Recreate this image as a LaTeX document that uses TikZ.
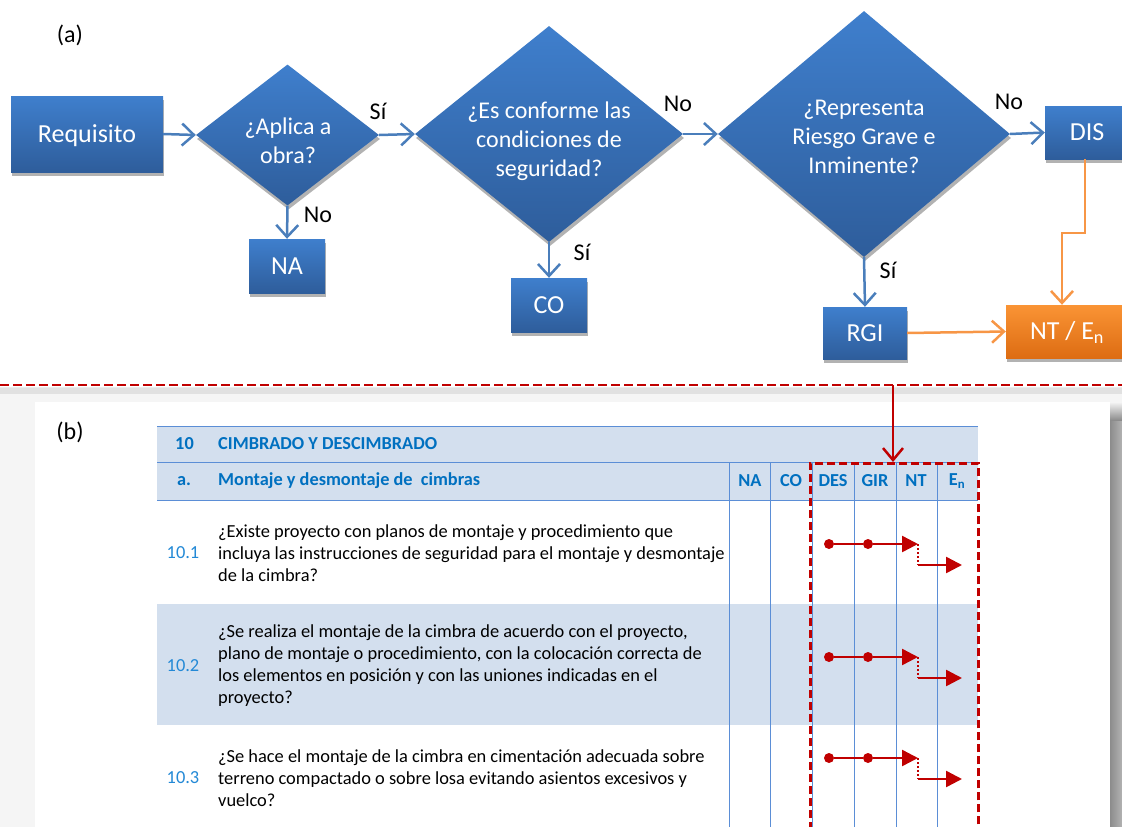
\documentclass[tikz,border=0pt]{standalone}
\usepackage{fontspec}
\setmainfont{Carlito}
\usetikzlibrary{shapes.geometric,arrows.meta,shadows}

\definecolor{boxtop}{HTML}{3F7FCD}
\definecolor{boxbot}{HTML}{2E5D9B}
\definecolor{flowline}{HTML}{4A7EBB}
\definecolor{ortop}{HTML}{FA9435}
\definecolor{orbot}{HTML}{DD6C12}
\definecolor{orline}{HTML}{F79646}
\definecolor{hdrblue}{HTML}{0070C0}
\definecolor{numblue}{HTML}{2389D6}
\definecolor{rowfill}{HTML}{D3DFEE}
\definecolor{gridline}{HTML}{5B8ED6}
\definecolor{markred}{HTML}{C00000}

\tikzset{
  boxshadow/.style={drop shadow={shadow xshift=1pt,shadow yshift=-4pt,opacity=.3,fill=black}},
  flowbox/.style={rectangle, inner sep=0pt, top color=boxtop, bottom color=boxbot,
    text=white, font=\fontsize{26}{30}\selectfont, text height=16.5pt, text depth=0pt, boxshadow},
  outbox/.style={flowbox, top color=ortop, bottom color=orbot},
  decision/.style={diamond, inner sep=0pt, top color=boxtop, bottom color=boxbot, boxshadow},
  asktext/.style={text=white, align=center, font=\fontsize{24}{29}\selectfont, inner sep=0pt},
  flow/.style={draw=flowline, line width=2.5pt, -{Straight Barb[length=12pt,width=22pt]}},
  orflow/.style={flow, draw=orline},
  answer/.style={font=\fontsize{24}{28}\selectfont, text=black},
  panel/.style={font=\fontsize{24}{28}\selectfont, text=black},
  hdr/.style={font=\bfseries\fontsize{18.3}{22}\selectfont, text=hdrblue, inner sep=0pt},
  itemno/.style={font=\fontsize{18.4}{22}\selectfont, text=numblue, inner sep=0pt},
  itemtext/.style={font=\fontsize{18.4}{22}\selectfont, align=left, anchor=west, inner sep=0pt},
  grid/.style={draw=gridline, line width=1pt},
  dot/.style={circle, fill=markred, inner sep=0pt, minimum size=10pt},
  markline/.style={draw=markred, line width=2.5pt},
  marktip/.style={markline, -{Triangle[length=16pt,width=16pt]}},
}

\begin{document}
\begin{tikzpicture}[x=1pt,y=-1pt]
\useasboundingbox (0,0) rectangle (1122,827);
\clip (0,0) rectangle (1122,827);

% ---------- lower page with its shadow ----------
\fill[black!4] (0,388) rectangle (1122,827);
\shade[left color=black!45, right color=black!30] (1110,420) rectangle (1122,827);
\shade[top color=black!4, bottom color=black!45] (1110,402) rectangle (1122,420);
\fill[white] (35,402) rectangle (1110,827);

% ---------- separator ----------
\coordinate (sepL) at (0,385);
\coordinate (sepR) at (1122,385);
\draw[black, opacity=.08, line width=7pt] ([yshift=-5pt]sepL) -- ([yshift=-5pt]sepR);
\draw[markred, line width=2.5pt, dash pattern=on 9pt off 4pt] (sepL) -- (sepR);

% ---------- (a) flowchart ----------
\node[panel] (pa) at (70,35) {(a)};

\node[flowbox, minimum width=152pt, minimum height=76pt] (req) at (87,134) {Requisito};
\node[decision, minimum width=183pt, minimum height=141pt] (d1) at (287.5,135) {};
\node[decision, minimum width=268pt, minimum height=216pt] (d2) at (549,134) {};
\node[decision, minimum width=292pt, minimum height=246pt] (d3) at (864,134) {};
\node[asktext] (d1t) at (288,141) {¿Aplica a\\obra?};
\node[asktext] (d2t) at (549,141) {¿Es conforme las\\condiciones de\\seguridad?};
\node[asktext] (d3t) at (864,137) {¿Representa\\Riesgo Grave e\\Inminente?};

\node[flowbox, minimum width=76pt, minimum height=54pt] (na) at (287,266) {NA};
\node[flowbox, minimum width=76pt, minimum height=54pt] (co) at (549,305) {CO};
\node[flowbox, minimum width=84pt, minimum height=52pt] (rgi) at (865,333) {RGI};
\node[flowbox, minimum width=84pt, minimum height=53pt] (dis) at (1087,132.5) {DIS};
\node[outbox, minimum width=122pt, minimum height=53pt] (nt) at (1067,331.5) {NT / E\textsubscript{n}};

\draw[flow] (req.east) -- (d1.west);
\draw[flow] (d1.east) -- (d2.west);
\draw[flow] (d1.south) -- (na.north);
\draw[flow] (d2.east) -- (d3.west);
\draw[flow] (d2.south) -- (co.north);
\draw[flow] (d3.east) -- (dis.west);
\draw[flow] (d3.south) -- (rgi.north);
\draw[orflow] ([xshift=-2pt]dis.south) -- ++(0,74) -| ([xshift=-5pt]nt.north);
\draw[orflow] (rgi.east) -- (nt.west);

\node[answer] (a1) at (378,111) {Sí};
\node[answer] (a2) at (318,215) {No};
\node[answer] (a3) at (678,104) {No};
\node[answer] (a4) at (582,252) {Sí};
\node[answer] (a5) at (1009,102) {No};
\node[answer] (a6) at (888,270) {Sí};

% ---------- (b) checklist ----------
\node[panel] (pb) at (70,432) {(b)};

\fill[rowfill] (157,426) rectangle (978,500);
\fill[rowfill] (157,604) rectangle (978,725);
\foreach \y in {426,462,500} \draw[grid] (157,\y) -- (978,\y);
\foreach \x in {729,770,812,854,896,937} \draw[grid] (\x,462) -- (\x,827);

\node[hdr] (h10) at (184.5,444) {10};
\node[hdr, anchor=west] (h10t) at (218,444) {CIMBRADO Y DESCIMBRADO};
\node[hdr] (ha) at (184,481) {a.};
\node[hdr, anchor=west] (hat) at (218,481) {Montaje y desmontaje de\ \ cimbras};
\node[hdr] (cna) at (750,481) {NA};
\node[hdr] (cco) at (791,481) {CO};
\node[hdr] (cdes) at (833,481) {DES};
\node[hdr] (cgir) at (875,481) {GIR};
\node[hdr] (cnt) at (916,481) {NT};
\node[hdr] (cen) at (957,481) {E\textsubscript{n}};

\node[itemno] (n1) at (183,553) {10.1};
\node[itemno] (n2) at (183,666) {10.2};
\node[itemno] (n3) at (183,778) {10.3};

\node[itemtext] (q1) at (218,553) {¿Existe proyecto con planos de montaje y procedimiento que\\incluya las instrucciones de seguridad para el montaje y desmontaje\\de la cimbra?};
\node[itemtext] (q2) at (218,666) {¿Se realiza el montaje de la cimbra de acuerdo con el proyecto,\\plano de montaje o procedimiento, con la colocación correcta de\\los elementos en posición y con las uniones indicadas en el\\proyecto?};
\node[itemtext] (q3) at (218,778) {¿Se hace el montaje de la cimbra en cimentación adecuada sobre\\terreno compactado o sobre losa evitando asientos excesivos y\\vuelco?};

% highlighted columns and the pointer from the flowchart
\node[draw=markred, line width=2.5pt, dash pattern=on 8pt off 4pt, inner sep=0pt,
      minimum width=168pt, minimum height=373pt, anchor=north west] (sel) at (809,462) {};
\coordinate (drop) at (893,385);
\draw[markline, -{Straight Barb[length=12pt,width=20pt]}] (drop) -- (drop |- sel.north);

\foreach \n/\y in {1/544, 2/657, 3/758} {
  \node[dot] (p\n) at (829,\y) {};
  \node[dot] (g\n) at (868,\y) {};
  \coordinate (s\n) at (918,\y);
  \coordinate (t\n) at (918,\y+21);
  \coordinate (e\n) at (962,\y+21);
  \draw[markline] (p\n) -- (g\n);
  \draw[marktip] (g\n) -- (s\n);
  \draw[markred, line width=2pt, dotted] (s\n) -- (t\n);
  \draw[marktip] (t\n) -- (e\n);
}
\end{tikzpicture}
\end{document}
